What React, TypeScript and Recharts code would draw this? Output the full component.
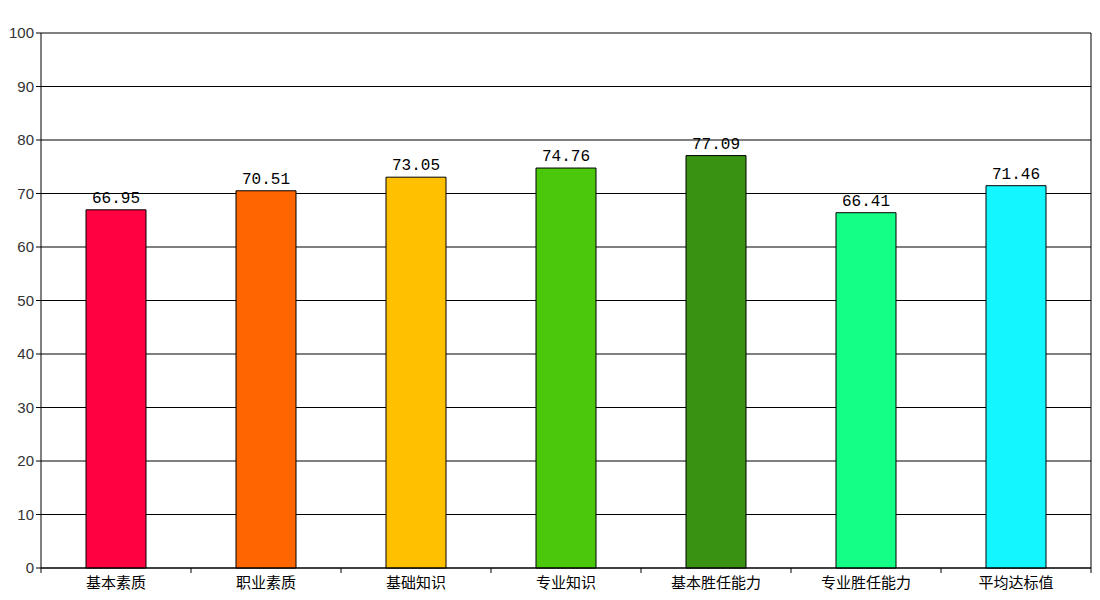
import { BarChart, Bar, XAxis, YAxis, CartesianGrid, Cell, LabelList } from 'recharts';

const categories = ['基本素质', '职业素质', '基础知识', '专业知识', '基本胜任能力', '专业胜任能力', '平均达标值'];
const scores = [66.95, 70.51, 73.05, 74.76, 77.09, 66.41, 71.46];
const barColors = ['#FF0040', '#FF6600', '#FFC000', '#4CC80C', '#3A9212', '#14FF86', '#14F6FF'];
const yTicks = [0, 10, 20, 30, 40, 50, 60, 70, 80, 90, 100];

const data = categories.map((name, i) => ({ name, score: scores[i] }));

const HALF_BAND = 75;

function CategoryTick(props: any) {
  const { x, y, payload, index } = props;
  return (
    <g>
      <line x1={x - HALF_BAND} y1={y - 8} x2={x - HALF_BAND} y2={y - 3} stroke="#000" />
      {index === categories.length - 1 && (
        <line x1={x + HALF_BAND} y1={y - 8} x2={x + HALF_BAND} y2={y - 3} stroke="#000" />
      )}
      <text x={x} y={y + 12} textAnchor="middle" fill="#000" fontSize={15} fontFamily="'Noto Sans CJK SC', sans-serif">
        {payload.value}
      </text>
    </g>
  );
}

export default function App() {
  return (
    <div style={{ position: 'absolute', left: 0, top: 0, background: '#fff' }}>
      <BarChart width={1100} height={600} data={data} margin={{ top: 33, right: 8, bottom: 0, left: 0 }}>
        <CartesianGrid yAxisId="left" vertical={false} stroke="#000" strokeOpacity={1} />
        <XAxis
          dataKey="name"
          axisLine={{ stroke: '#000' }}
          tickLine={false}
          tick={<CategoryTick />}
          interval={0}
          height={32}
        />
        <YAxis
          yAxisId="left"
          domain={[0, 100]}
          ticks={yTicks}
          width={41}
          axisLine={{ stroke: '#000' }}
          tickLine={{ stroke: '#000' }}
          tickSize={5}
          tick={{ fill: '#333', fontSize: 15, fontFamily: "'Liberation Sans', sans-serif" }}
          interval={0}
        />
        <YAxis
          yAxisId="right"
          orientation="right"
          domain={[0, 100]}
          width={1}
          axisLine={{ stroke: '#000' }}
          tickLine={false}
          tick={false}
        />
        <Bar dataKey="score" yAxisId="left" stroke="#000" strokeWidth={1} barSize={60} isAnimationActive={false}>
          {data.map((d, i) => (
            <Cell key={d.name} fill={barColors[i]} />
          ))}
          <LabelList
            dataKey="score"
            position="top"
            offset={7}
            formatter={(v: any) => Number(v).toFixed(2)}
            style={{ fill: '#000', fontSize: 16, fontFamily: "'Liberation Mono', monospace" }}
          />
        </Bar>
      </BarChart>
    </div>
  );
}
